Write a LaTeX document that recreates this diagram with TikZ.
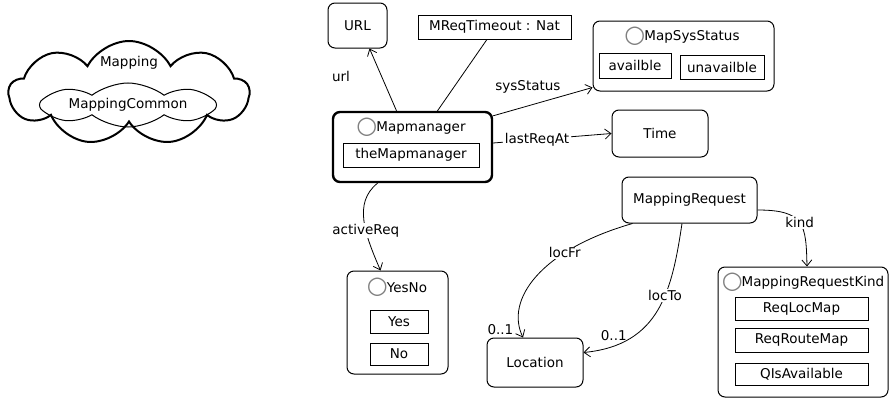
\documentclass[tikz,border=0pt]{standalone}
\usepackage{fontspec}
\setmainfont{DejaVu Sans}
\usetikzlibrary{arrows.meta,shapes.symbols}
\newcommand{\clsname}[1]{\raisebox{-1.5pt}{\color{black!50}\fontsize{24}{24}\selectfont\smash{\char"25CB}}\kern-1pt#1}

\begin{document}
\begin{tikzpicture}[x=1pt,y=-1pt,font=\fontsize{13.5}{16}\selectfont]
\tikzset{
  classbox/.style={draw=black,rounded corners=7pt,line width=1pt,inner sep=0pt},
  mainbox/.style={classbox,line width=2.4pt},
  litbox/.style={draw=black,line width=0.8pt,inner sep=0pt},
  pkgcloud/.style={cloud,cloud ignores aspect,draw=black,inner sep=0pt},
  assoc/.style={draw=black,line width=0.8pt,-{Straight Barb[length=6pt,width=10pt]}},
  plainline/.style={draw=black,line width=0.8pt},
  assoclabel/.style={fill=white,inner sep=1pt}
}
\useasboundingbox (0,0) rectangle (891,399);
% package clouds
\node[pkgcloud,line width=2pt,cloud puffs=9,cloud puff arc=125,minimum width=240,minimum height=104] (n_pkg) at (129,93) {};
\node (t_pkg) at (129,63) {Mapping};
\node[pkgcloud,line width=1pt,cloud puffs=8,cloud puff arc=75,minimum width=177,minimum height=44] (n_common) at (128,105) {MappingCommon};
% classes
\node[classbox,minimum width=59,minimum height=45] (n_url) at (357.5,25.5) {URL};
\node[litbox,minimum width=153,minimum height=24] (n_timeout) at (494.5,27) {MReqTimeout : Nat};
\node[mainbox,minimum width=159,minimum height=70] (n_mgr) at (412.5,147) {};
\node (t_mgr) at (411,128) {\clsname{Mapmanager}};
\node[litbox,minimum width=136,minimum height=24] (n_themgr) at (411,155) {theMapmanager};
\node[classbox,minimum width=181,minimum height=70] (n_sys) at (683.5,56) {};
\node (t_sys) at (682,37) {\clsname{MapSysStatus}};
\node[litbox,minimum width=72,minimum height=25] (n_avail) at (635,65.5) {availble};
\node[litbox,minimum width=84,minimum height=24] (n_unavail) at (722,67) {unavailble};
\node[classbox,minimum width=96,minimum height=47] (n_time) at (660,133.5) {Time};
\node[classbox,minimum width=135,minimum height=46] (n_mreq) at (689.5,200) {MappingRequest};
\node[classbox,minimum width=170,minimum height=130] (n_kind) at (803,332) {};
\node (t_kind) at (803,283) {\clsname{MappingRequestKind}};
\node[litbox,minimum width=133,minimum height=23] (n_loc_map) at (801.5,308.5) {ReqLocMap};
\node[litbox,minimum width=133,minimum height=24] (n_route_map) at (801.5,340) {ReqRouteMap};
\node[litbox,minimum width=133,minimum height=22] (n_qis) at (801.5,374) {QIsAvailable};
\node[classbox,minimum width=96,minimum height=49] (n_loc) at (535,362.5) {Location};
\node[classbox,minimum width=101,minimum height=103] (n_yesno) at (397.5,322.5) {};
\node (t_yesno) at (397,288) {\clsname{YesNo}};
\node[litbox,minimum width=58,minimum height=23] (n_yes) at (399,321.5) {Yes};
\node[litbox,minimum width=58,minimum height=22] (n_no) at (399,354) {No};
% associations
\draw[assoc] ([xshift=-16pt]n_mgr.north) -- ([xshift=12pt]n_url.south)
  node[pos=0.55,left=28pt] (l_url) {url};
\draw[plainline] ([xshift=25pt]n_mgr.north) -- ([xshift=-7.5pt]n_timeout.south);
\draw[assoc] ([yshift=-5pt]n_mgr.north east) -- ([yshift=4pt]n_sys.south west)
  node[pos=0.35,above=9pt] (l_sys) {sysStatus};
\draw[assoc] ([yshift=4pt]n_mgr.east) -- (n_time.west)
  node[pos=0.37,assoclabel,inner sep=2pt] (l_last) {lastReqAt};
\draw[assoc] ([xshift=-35pt]n_mgr.south) .. controls +(-25,20) and +(-15,-35) .. ([xshift=-17pt]n_yesno.north)
  node[pos=0.6,assoclabel] (l_active) {activeReq};
\draw[assoc] ([yshift=-10pt]n_mreq.east) .. controls (805,210) and (806,225) .. ([xshift=4pt]n_kind.north)
  node[pos=0.5,assoclabel] (l_kind) {kind};
\draw[assoc] ([xshift=-57pt]n_mreq.south) .. controls (540,250) and (505,300) .. ([xshift=-12pt]n_loc.north)
  node[pos=0.3,assoclabel] (l_locfr) {locFr}
  node[pos=0.93,left=3pt] (m_locfr) {0..1};
\draw[assoc] ([xshift=-7.5pt]n_mreq.south) .. controls (672,290) and (660,345) .. ([yshift=10pt]n_loc.east)
  node[pos=0.4,assoclabel] (l_locto) {locTo}
  node[pos=0.85,above=2pt] (m_locto) {0..1};
\end{tikzpicture}
\end{document}
